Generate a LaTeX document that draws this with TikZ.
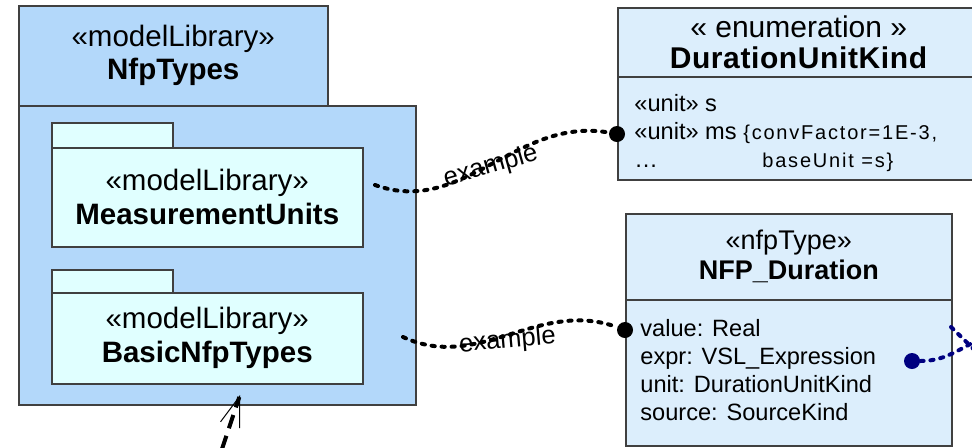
\documentclass[tikz,border=0pt]{standalone}
\usepackage{fontspec}
\setmainfont{Liberation Sans}
\usetikzlibrary{arrows.meta}
\definecolor{pkgblue}{RGB}{179,216,250}
\definecolor{pkglight}{RGB}{224,255,255}
\definecolor{classblue}{RGB}{220,238,252}
\definecolor{edgegray}{RGB}{64,64,64}
\definecolor{refnavy}{RGB}{0,0,128}
\newcommand{\tagged}[1]{{\fontsize{10}{14}\selectfont\addfontfeature{LetterSpace=9}#1}}

\begin{document}
\begin{tikzpicture}[x=0.5pt,y=-0.5pt,
  box/.style={draw=edgegray,line width=0.75pt,inner sep=0pt,anchor=north west,align=center},
  outerpkg/.style={box,fill=pkgblue,font=\fontsize{14.75}{16.5}\selectfont},
  innerpkg/.style={box,fill=pkglight,font=\fontsize{14.75}{17}\selectfont},
  classhead/.style={box,fill=classblue},
  attrs/.style={anchor=north west,align=left,inner sep=0pt,font=\fontsize{11.8}{14}\selectfont},
  dot/.style={circle,fill=black,inner sep=0pt,minimum size=8pt},
  navydot/.style={dot,fill=refnavy},
  link/.style={line width=2pt,line cap=round,dash pattern=on 1.6pt off 3.4pt},
  navylink/.style={link,draw=refnavy},
  lbl/.style={font=\fontsize{12.8}{14}\selectfont,inner sep=1pt},
  dep/.style={line width=2pt,dash pattern=on 7pt off 4pt,
    -{Straight Barb[length=15pt,width=10pt,line width=0.5pt]}}]
\clip (0,0) rectangle (972,447);

% outer package with its two nested libraries
\node[outerpkg,minimum width=154.5pt,minimum height=50pt] (nfptab) at (18,5)
  {\raisebox{-1.5pt}{«modelLibrary»}\\\raisebox{-1.5pt}{\textbf{NfpTypes}}};
\node[outerpkg,minimum width=198.5pt,minimum height=149.5pt] (nfpbody) at (18,105) {};
\node[innerpkg,minimum width=60.5pt,minimum height=12.5pt] (mutab) at (51,122) {};
\node[innerpkg,minimum width=155.5pt,minimum height=49.5pt] (mubody) at (51,147)
  {«modelLibrary»\\\textbf{MeasurementUnits}};
\node[innerpkg,minimum width=60.5pt,minimum height=11.5pt] (bntab) at (51,269) {};
\node[innerpkg,minimum width=155.5pt,minimum height=45.5pt] (bnbody) at (51,292)
  {«modelLibrary»\\\textbf{BasicNfpTypes}};

% enumeration
\node[classhead,minimum width=181pt,minimum height=34.5pt,font=\fontsize{15}{15.5}\selectfont] (enumhead) at (617,7)
  {« enumeration »\\\textbf{\addfontfeature{LetterSpace=2}DurationUnitKind}};
\node[classhead,minimum width=181pt,minimum height=51.5pt] (enumbody) at (617,76) {};
\node[attrs] (enumlits) at (634,94)
  {«unit» s\\
   «unit» ms \tagged{\{convFactor=1E-3,}\\
   \makebox[64pt][l]{\dots}\tagged{baseUnit =s\}}};

% nfp type
\node[classhead,minimum width=163pt,minimum height=43pt,font=\fontsize{13.5}{15}\selectfont] (durhead) at (625,213)
  {«nfpType»\\\textbf{NFP\_Duration}};
\node[classhead,minimum width=163pt,minimum height=73pt] (durbody) at (625,299) {};
\node[attrs] (durattrs) at (640,319)
  {value: Real\\expr: VSL\_Expression\\unit: DurationUnitKind\\source: SourceKind};

% example links
\node[dot] (dotA) at (617,134) {};
\node[dot] (dotB) at (625,330) {};
\coordinate (exA) at (375,185);
\coordinate (exB) at (403,337);
\draw[link] (exA) to[out=-20,in=170] node[lbl,rotate=16,pos=0.5,yshift=-1pt] {example} (dotA);
\draw[link] (exB) to[out=-25,in=160] node[lbl,rotate=5,pos=0.49,yshift=-3pt] {example} (dotB);

% links leaving to the right
\node[navydot] (dotC) at (912,361) {};
\coordinate (offC) at (990,335);
\coordinate (offD1) at (951,327);
\coordinate (offD2) at (990,365);
\draw[navylink] (dotC) to[out=0,in=200] (offC);
\draw[navylink] (offD1) -- (offD2);

% dependency into the package
\coordinate (depS) at (215,470);
\coordinate (depE) at (240,395);
\draw[dep] (depS) -- (depE);
\end{tikzpicture}
\end{document}
